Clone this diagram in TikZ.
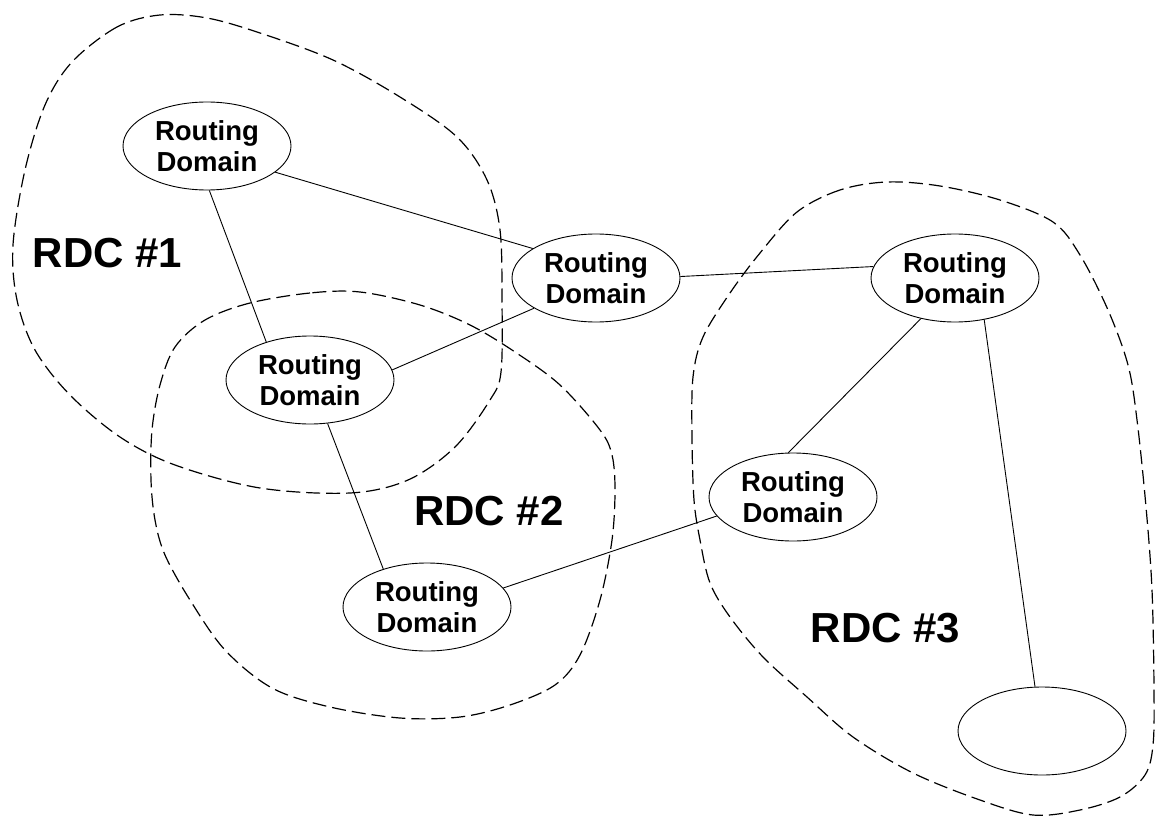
\documentclass[tikz,border=0pt]{standalone}
\usepackage{fontspec}
\setmainfont{Liberation Sans}
\usetikzlibrary{shapes.geometric}
\newcommand{\rdtext}[2]{\raisebox{-4.2pt}{\parbox[c]{108pt}{\centering #1\\#2}}}
\begin{document}
\begin{tikzpicture}[x=1pt,y=-1pt,
  rd/.style={draw, ellipse, line width=0.9pt, minimum width=168pt, minimum height=88pt,
    inner sep=0pt, font=\fontsize{27.5}{30.8}\selectfont\bfseries},
  link/.style={line width=0.9pt},
  rdc/.style={line width=1.2pt, dash pattern=on 14pt off 6pt},
  rdclabel/.style={font=\fontsize{42}{48}\selectfont\bfseries, inner sep=0pt, anchor=base}]
\useasboundingbox (0,0) rectangle (1155,818);

% domain confederations (dashed outlines)
\draw[rdc] plot[smooth cycle, tension=0.55] coordinates {
  (160,15) (117,27) (72,62) (45,105) (25,170) (13,245) (17,300) (35,350)
  (70,395) (120,437) (175,465) (260,488) (350,493) (408,480) (455,447)
  (490,400) (501,372) (502,300) (500,230) (487,180) (457,137) (400,97)
  (333,60) (260,33) (207,18)};
\draw[rdc] plot[smooth cycle, tension=0.55] coordinates {
  (360,292) (310,293) (250,303) (205,320) (175,347) (160,385) (152,430)
  (151,480) (155,520) (165,555) (190,600) (225,650) (272,688) (330,707)
  (400,718) (460,717) (510,705) (555,685) (580,655) (600,600) (612,540)
  (615,490) (612,455) (600,430) (560,385) (515,352) (470,325) (420,305)};
\draw[rdc] plot[smooth cycle, tension=0.55] coordinates {
  (887,182) (840,190) (797,212) (760,253) (730,293) (703,337) (693,377)
  (692,437) (694,500) (700,540) (710,583) (730,617) (763,657) (807,697)
  (853,737) (913,773) (980,800) (1033,815) (1080,810) (1120,797) (1145,775)
  (1153,745) (1154,690) (1152,590) (1146,507) (1137,420) (1128,365)
  (1108,310) (1080,255) (1053,222) (1000,200) (940,186)};

% routing domains
\node[rd] (A) at (207,146) {\rdtext{Routing}{Domain}};
\node[rd] (B) at (596,278) {\rdtext{Routing}{Domain}};
\node[rd] (C) at (955,278) {\rdtext{Routing}{Domain}};
\node[rd] (F) at (310,380) {\rdtext{Routing}{Domain}};
\node[rd] (D) at (793,497) {\rdtext{Routing}{Domain}};
\node[rd] (G) at (427,607) {\rdtext{Routing}{Domain}};
\node[rd] (E) at (1042,731) {};

% labels
\node[rdclabel] (L1) at (107.5,267) {RDC \#1};
\node[rdclabel] (L2) at (489,525) {RDC \#2};
\node[rdclabel] (L3) at (885.5,642) {RDC \#3};

% links
\draw[link] (A.-21.4) -- (B.155.3);
\draw[link] (A.-87.4) -- (F.139.2);
\draw[link] (F.7.5) -- (B.-154.5);
\draw[link] (B.1.4) -- (C.172.5);
\draw[link] (C.-130.5) -- (D.96.5);
\draw[link] (C.-55.4) -- (E.99);
\draw[link] (F.-68.4) -- (G.139.2);
\draw[link] (G.14.2) -- (D.194.7);
\end{tikzpicture}
\end{document}
